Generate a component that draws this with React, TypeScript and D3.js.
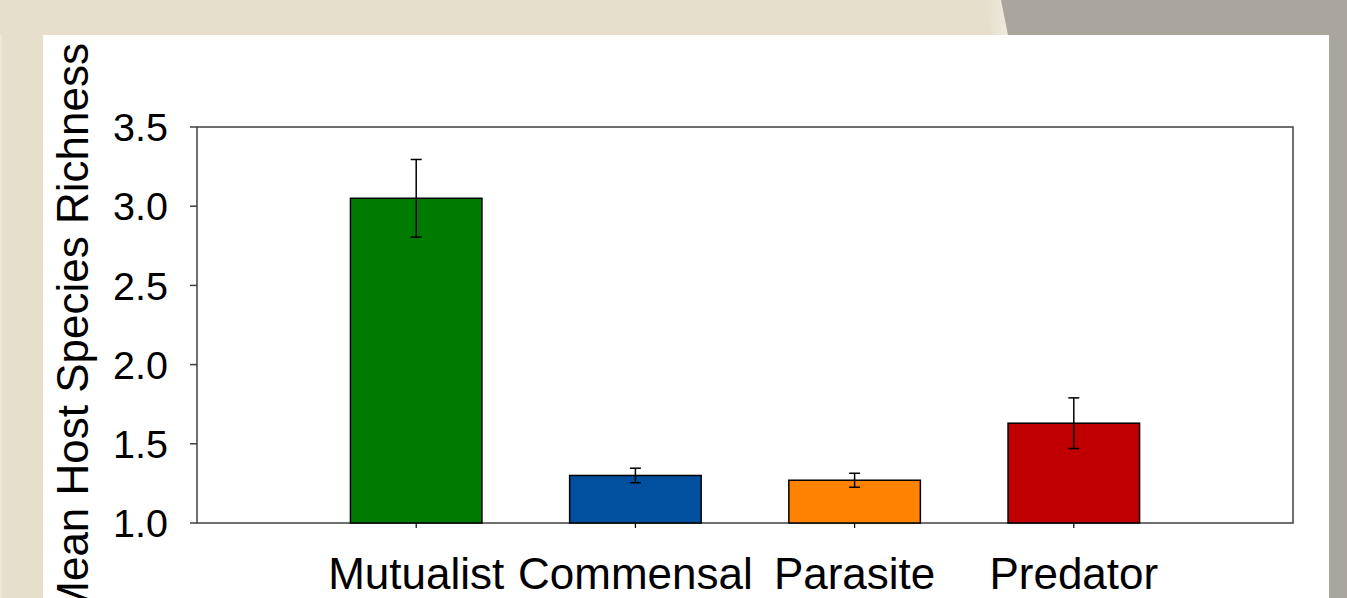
import React from "react";
import * as d3 from "d3";

const categories = ["Mutualist", "Commensal", "Parasite", "Predator"];
const meanValues = [3.05, 1.30, 1.27, 1.63];
const errorValues = [0.245, 0.046, 0.044, 0.16];
const barColors = ["#007b00", "#00509f", "#ff8200", "#c00000"];
const yTicks = [1.0, 1.5, 2.0, 2.5, 3.0, 3.5];
const yTitle = "Mean Host Species Richness";

const W = 1347;
const H = 598;
const plot = { left: 197, right: 1293, top: 127, bottom: 523 };
const FONT = "'Liberation Sans', Arial, Helvetica, sans-serif";

export default function App() {
  const x = d3.scaleLinear().domain([0, categories.length + 1]).range([plot.left, plot.right]);
  const y = d3.scaleLinear().domain([1, 3.5]).range([plot.bottom, plot.top]);
  const barW = x(0.6) - x(0);
  const capW = 11;

  return (
    <svg
      width={W}
      height={H}
      style={{ position: "absolute", left: 0, top: 0, display: "block" }}
      fontFamily={FONT}
    >
      <defs>
        <linearGradient id="edge" x1="0" x2="1" y1="0" y2="0">
          <stop offset="0" stopColor="#e5dfcc" />
          <stop offset="1" stopColor="#eeeadc" />
        </linearGradient>
      </defs>
      {/* backgrounds */}
      <rect x={0} y={0} width={W} height={H} fill="#e5dfcc" />
      <rect x={0} y={35} width={2} height={H - 35} fill="#ece8da" />
      <polygon points="985,0 1001,0 1008,35 992,35" fill="url(#edge)" />
      <polygon points={`1001,0 ${W},0 ${W},${H} 1329,${H} 1329,35 1008,35`} fill="#aaa69d" />
      <rect x={43} y={35} width={1329 - 43} height={H - 35} fill="#ffffff" />

      {/* frame */}
      <rect
        x={plot.left}
        y={plot.top}
        width={plot.right - plot.left}
        height={plot.bottom - plot.top}
        fill="none"
        stroke="#404040"
        strokeWidth={1.5}
      />

      {/* bars */}
      {categories.map((c, i) => {
        const cx = x(i + 1);
        return (
          <g key={c}>
            <rect
              x={cx - barW / 2}
              y={y(meanValues[i])}
              width={barW}
              height={y(1) - y(meanValues[i])}
              fill={barColors[i]}
              stroke="#000"
              strokeWidth={1.5}
            />
            <line x1={cx} x2={cx} y1={y(meanValues[i] + errorValues[i])} y2={y(meanValues[i] - errorValues[i])} stroke="#000" strokeWidth={1.5} />
            <line x1={cx - capW / 2} x2={cx + capW / 2} y1={y(meanValues[i] + errorValues[i])} y2={y(meanValues[i] + errorValues[i])} stroke="#000" strokeWidth={1.5} />
            <line x1={cx - capW / 2} x2={cx + capW / 2} y1={y(meanValues[i] - errorValues[i])} y2={y(meanValues[i] - errorValues[i])} stroke="#000" strokeWidth={1.5} />
            <line x1={cx} x2={cx} y1={plot.bottom} y2={plot.bottom + 5} stroke="#000" strokeWidth={1.2} />
            <text x={cx} y={589} textAnchor="middle" fontSize={44} fill="#000">
              {c}
            </text>
          </g>
        );
      })}

      {/* y ticks */}
      {yTicks.map((t) => (
        <g key={t}>
          <line x1={plot.left - 7} x2={plot.left} y1={y(t)} y2={y(t)} stroke="#404040" strokeWidth={1.5} />
          <text x={168} y={y(t)} dy="0.36em" textAnchor="end" fontSize={39.5} fill="#000">
            {d3.format(".1f")(t)}
          </text>
        </g>
      ))}

      {/* y title */}
      <text transform="translate(88,43) rotate(-90)" textAnchor="end" fontSize={44} fill="#000">
        {yTitle}
      </text>
    </svg>
  );
}
